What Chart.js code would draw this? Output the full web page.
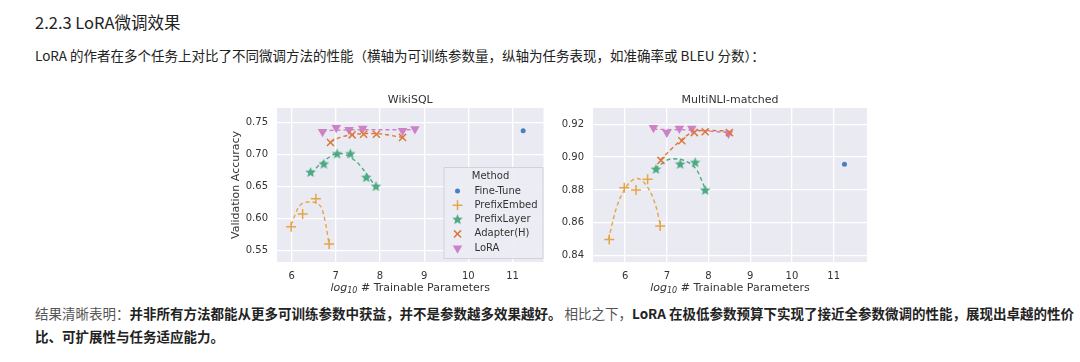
<!DOCTYPE html>
<html>
<head>
<meta charset="utf-8">
<script src="https://cdn.jsdelivr.net/npm/chart.js@4.4.0/dist/chart.umd.min.js"></script>
<style>
  body { margin: 0; background: #fff; width: 1080px; height: 362px; overflow: hidden; position: relative;
         font-family: "Noto Sans CJK SC", "Noto Sans", sans-serif; color: #222; }
  .h { position: absolute; left: 35px; top: 10px; font-size: 16.5px; white-space: nowrap; }
  .p { position: absolute; left: 35px; font-size: 13.5px; white-space: nowrap; line-height: 23px; }
  .g { color: #555; }
  b { font-weight: bold; color: #222; }
  canvas { position: absolute; }
</style>
</head>
<body>
<div class="h">2.2.3 LoRA微调效果</div>
<div class="p" style="top:44px">LoRA 的作者在多个任务上对比了不同微调方法的性能（横轴为可训练参数量，纵轴为任务表现，如准确率或 BLEU 分数）：</div>
<div class="p" style="top:302px"><span class="g">结果清晰表明：</span><b>并非所有方法都能从更多可训练参数中获益，并不是参数越多效果越好。</b><span class="g"> 相比之下，</span><b>LoRA 在极低参数预算下实现了接近全参数微调的性能，展现出卓越的性价</b><br><b>比、可扩展性与任务适应能力。</b></div>

<div style="position:absolute;left:215px;top:85px;width:335px;height:215px"><canvas id="wiki"></canvas></div>
<div style="position:absolute;left:550px;top:85px;width:325px;height:215px"><canvas id="mnli"></canvas></div>

<script>
// 方法名と色
const methods = ['Fine-Tune', 'PrefixEmbed', 'PrefixLayer', 'Adapter(H)', 'LoRA'];
const colors = ['rgb(70,128,195)', 'rgb(229,165,70)', 'rgb(76,170,130)', 'rgb(220,120,60)', 'rgb(205,130,200)'];
const xTicks = [6, 7, 8, 9, 10, 11];

// WikiSQL
const wikiYTicks = [0.55, 0.60, 0.65, 0.70, 0.75];
const wikiFineX = [11.24];
const wikiFineY = [0.7375];
const wikiEmbedX = [5.99, 6.25, 6.55, 6.85];
const wikiEmbedY = [0.587, 0.607, 0.631, 0.560];
const wikiLayerX = [6.43, 6.73, 7.03, 7.33, 7.69, 7.91];
const wikiLayerY = [0.672, 0.685, 0.701, 0.701, 0.664, 0.650];
const wikiAdapterX = [6.88, 7.37, 7.63, 7.92, 8.51];
const wikiAdapterY = [0.719, 0.731, 0.732, 0.732, 0.727];
const wikiLoraX = [6.70, 7.01, 7.30, 7.61, 8.51, 8.79];
const wikiLoraY = [0.736, 0.742, 0.739, 0.741, 0.7375, 0.740];
// 破線（フィット曲線）
const wikiEmbedFitX = [5.99, 6.17, 6.41, 6.66, 6.77, 6.85];
const wikiEmbedFitY = [0.590, 0.619, 0.626, 0.619, 0.592, 0.559];
const wikiLayerFitX = [6.44, 6.73, 7.07, 7.45, 7.63, 7.90];
const wikiLayerFitY = [0.671, 0.690, 0.702, 0.690, 0.676, 0.650];
const wikiAdapterFitX = [6.88, 7.10, 7.35, 7.70, 8.00, 8.50];
const wikiAdapterFitY = [0.720, 0.727, 0.731, 0.733, 0.7325, 0.727];
const wikiLoraFitX = [6.70, 7.50, 8.80];
const wikiLoraFitY = [0.7375, 0.739, 0.739];

// MultiNLI-matched
const mnliYTicks = [0.84, 0.86, 0.88, 0.90, 0.92];
const mnliFineX = [11.26];
const mnliFineY = [0.8956];
const mnliEmbedX = [5.62, 5.98, 6.26, 6.54, 6.84];
const mnliEmbedY = [0.8497, 0.8813, 0.880, 0.8865, 0.858];
const mnliLayerX = [6.74, 7.32, 7.68, 7.92];
const mnliLayerY = [0.8925, 0.8956, 0.8966, 0.8797];
const mnliAdapterX = [6.86, 7.36, 7.66, 7.92, 8.50];
const mnliAdapterY = [0.898, 0.910, 0.915, 0.9155, 0.915];
const mnliLoraX = [6.68, 7.00, 7.30, 7.60, 8.48];
const mnliLoraY = [0.918, 0.915, 0.9175, 0.9175, 0.9144];
const mnliEmbedFitX = [5.60, 5.78, 5.98, 6.28, 6.58, 6.75, 6.84];
const mnliEmbedFitY = [0.8497, 0.868, 0.880, 0.887, 0.880, 0.869, 0.859];
const mnliLayerFitX = [6.72, 7.12, 7.44, 7.72, 7.92];
const mnliLayerFitY = [0.893, 0.899, 0.8977, 0.892, 0.8807];
const mnliAdapterFitX = [6.84, 7.36, 7.64, 7.96, 8.48];
const mnliAdapterFitY = [0.8983, 0.9107, 0.9155, 0.9163, 0.916];
const mnliLoraFitX = [6.68, 7.60, 8.50];
const mnliLoraFitY = [0.917, 0.9165, 0.915];

const FONT = 'DejaVu Sans';
const TXT = '#333';

// 星型マーカー
function starImage(color, r) {
  const c = document.createElement('canvas');
  c.width = c.height = r * 2 + 2;
  const ctx = c.getContext('2d');
  ctx.fillStyle = color;
  ctx.beginPath();
  for (let i = 0; i < 10; i++) {
    const rr = i % 2 === 0 ? r : r * 0.45;
    const a = -Math.PI / 2 + i * Math.PI / 5;
    const px = r + 1 + rr * Math.cos(a), py = r + 1 + rr * Math.sin(a);
    if (i === 0) ctx.moveTo(px, py); else ctx.lineTo(px, py);
  }
  ctx.closePath();
  ctx.fill();
  return c;
}
const star = starImage(colors[2], 5.5);

const markers = [
  { pointStyle: 'circle', radius: 2.5, rotation: 0, fill: true },
  { pointStyle: 'cross', radius: 5, rotation: 0, fill: false },
  { pointStyle: star, radius: 5.5, rotation: 0, fill: true },
  { pointStyle: 'crossRot', radius: 5, rotation: 0, fill: false },
  { pointStyle: 'triangle', radius: 5.5, rotation: 180, fill: true }
];

function pts(xs, ys) { return xs.map((x, i) => ({ x: x, y: ys[i] })); }

function scatterSet(i, xs, ys) {
  const m = markers[i];
  return {
    label: methods[i], data: pts(xs, ys), showLine: false,
    pointStyle: m.pointStyle, pointRadius: m.radius, pointRotation: m.rotation,
    pointBackgroundColor: colors[i], pointBorderColor: colors[i],
    pointBorderWidth: m.fill ? 0 : 1.5, order: 1
  };
}

function fitSet(i, xs, ys) {
  return {
    label: methods[i] + ' fit', data: pts(xs, ys), showLine: true,
    borderColor: colors[i], borderWidth: 1.4, borderDash: [4, 3],
    pointRadius: 0, cubicInterpolationMode: 'monotone', fill: false, order: 2
  };
}

const bgPlugin = {
  id: 'bg',
  beforeDraw(chart) {
    const a = chart.chartArea, ctx = chart.ctx;
    ctx.save();
    ctx.fillStyle = '#EAEAF2';
    ctx.fillRect(a.left, a.top, a.right - a.left, a.bottom - a.top);
    ctx.restore();
  }
};

const labelPlugin = {
  id: 'labels',
  afterDraw(chart, args, opts) {
    const a = chart.chartArea, ctx = chart.ctx;
    const cx = (a.left + a.right) / 2;
    ctx.save();
    ctx.fillStyle = TXT;
    ctx.textBaseline = 'middle';
    // タイトル
    ctx.font = '11px "' + FONT + '"';
    ctx.textAlign = 'center';
    ctx.fillText(opts.title, cx, a.top - 8);
    // x 軸ラベル
    const t1 = 'log', t2 = '10', t3 = ' # Trainable Parameters';
    ctx.textAlign = 'left';
    ctx.font = 'italic 11px "' + FONT + '"';
    const w1 = ctx.measureText(t1).width;
    ctx.font = 'italic 8px "' + FONT + '"';
    const w2 = ctx.measureText(t2).width;
    ctx.font = '11px "' + FONT + '"';
    const w3 = ctx.measureText(t3).width;
    let x = cx - (w1 + w2 + w3) / 2;
    const y = a.bottom + 26;
    ctx.font = 'italic 11px "' + FONT + '"';
    ctx.fillText(t1, x, y); x += w1;
    ctx.font = 'italic 8px "' + FONT + '"';
    ctx.fillText(t2, x, y + 3); x += w2;
    ctx.font = '11px "' + FONT + '"';
    ctx.fillText(t3, x, y);
    ctx.restore();
  }
};

const legendPlugin = {
  id: 'boxLegend',
  afterDraw(chart, args, opts) {
    if (!opts.show) return;
    const a = chart.chartArea, ctx = chart.ctx;
    const bx = a.right - 100, by = a.bottom - 95, bw = 100, bh = 91;
    ctx.save();
    ctx.fillStyle = 'rgba(236,236,243,0.95)';
    ctx.strokeStyle = '#D2D2DA';
    ctx.lineWidth = 1;
    ctx.beginPath();
    ctx.rect(bx + 0.5, by + 0.5, bw - 1, bh);
    ctx.fill();
    ctx.stroke();
    ctx.fillStyle = TXT;
    ctx.textBaseline = 'middle';
    ctx.font = '10px "' + FONT + '"';
    ctx.textAlign = 'center';
    ctx.fillText('Method', bx + bw / 2 - 3, by + 9);
    ctx.textAlign = 'left';
    methods.forEach((m, i) => {
      const yy = by + 24 + i * 14.3;
      const mk = markers[i];
      ctx.fillStyle = colors[i];
      ctx.strokeStyle = colors[i];
      ctx.lineWidth = 1.5;
      Chart.helpers.drawPoint(ctx, { pointStyle: mk.pointStyle, radius: mk.radius, rotation: mk.rotation, borderWidth: mk.fill ? 0 : 1.5 }, bx + 14, yy);
      ctx.fillStyle = TXT;
      ctx.fillText(m, bx + 31, yy);
    });
    ctx.restore();
  }
};

function makeChart(id, cfg) {
  const datasets = [
    fitSet(1, cfg.fits[0][0], cfg.fits[0][1]),
    fitSet(2, cfg.fits[1][0], cfg.fits[1][1]),
    fitSet(3, cfg.fits[2][0], cfg.fits[2][1]),
    fitSet(4, cfg.fits[3][0], cfg.fits[3][1])
  ];
  cfg.series.forEach((s, i) => datasets.push(scatterSet(i, s[0], s[1])));

  new Chart(document.getElementById(id), {
    type: 'scatter',
    data: { datasets: datasets },
    options: {
      responsive: true,
      maintainAspectRatio: false,
      animation: false,
      layout: { padding: { left: 0, right: cfg.padRight, top: 23, bottom: 0 } },
      plugins: {
        legend: { display: false },
        tooltip: { enabled: false },
        labels: { title: cfg.title },
        boxLegend: { show: cfg.legend }
      },
      scales: {
        x: {
          type: 'linear', min: cfg.xMin, max: cfg.xMax,
          afterBuildTicks: s => { s.ticks = xTicks.map(v => ({ value: v })); },
          afterFit: s => { s.height = 38; },
          grid: { color: '#fff', lineWidth: 1.3, drawTicks: false },
          border: { display: false },
          ticks: { color: TXT, font: { family: FONT, size: 10 }, padding: 8, callback: v => String(v) }
        },
        y: {
          type: 'linear', min: cfg.yMin, max: cfg.yMax,
          afterBuildTicks: s => { s.ticks = cfg.yTicks.map(v => ({ value: v })); },
          afterFit: s => { s.width = cfg.yWidth; },
          grid: { color: '#fff', lineWidth: 1.3, drawTicks: false },
          border: { display: false },
          ticks: { color: TXT, font: { family: FONT, size: 10 }, padding: 9, callback: v => v.toFixed(2) },
          title: { display: !!cfg.yTitle, text: cfg.yTitle, color: TXT, font: { family: FONT, size: 11 }, padding: { top: 15, bottom: 0 } }
        }
      }
    },
    plugins: [bgPlugin, labelPlugin, legendPlugin]
  });
}

makeChart('wiki', {
  title: 'WikiSQL', yTitle: 'Validation Accuracy', legend: true,
  xMin: 5.67, xMax: 11.7, yMin: 0.532, yMax: 0.773, yTicks: wikiYTicks,
  yWidth: 62, padRight: 3,
  series: [[wikiFineX, wikiFineY], [wikiEmbedX, wikiEmbedY], [wikiLayerX, wikiLayerY], [wikiAdapterX, wikiAdapterY], [wikiLoraX, wikiLoraY]],
  fits: [[wikiEmbedFitX, wikiEmbedFitY], [wikiLayerFitX, wikiLayerFitY], [wikiAdapterFitX, wikiAdapterFitY], [wikiLoraFitX, wikiLoraFitY]]
});

makeChart('mnli', {
  title: 'MultiNLI-matched', yTitle: '', legend: false,
  xMin: 5.23, xMax: 11.8, yMin: 0.836, yMax: 0.930, yTicks: mnliYTicks,
  yWidth: 43, padRight: 8,
  series: [[mnliFineX, mnliFineY], [mnliEmbedX, mnliEmbedY], [mnliLayerX, mnliLayerY], [mnliAdapterX, mnliAdapterY], [mnliLoraX, mnliLoraY]],
  fits: [[mnliEmbedFitX, mnliEmbedFitY], [mnliLayerFitX, mnliLayerFitY], [mnliAdapterFitX, mnliAdapterFitY], [mnliLoraFitX, mnliLoraFitY]]
});
</script>
</body>
</html>
